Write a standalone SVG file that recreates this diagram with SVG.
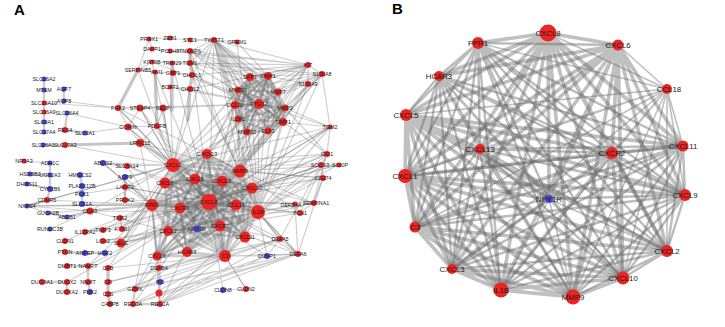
<svg xmlns="http://www.w3.org/2000/svg" width="725" height="327" viewBox="0 0 725 327">
<style>
.bg{fill:#fff}
.r{fill:#ec2424}
.b{fill:#4646d8}
.ta{font-family:"Liberation Sans",Arial,sans-serif;font-size:5.4px;fill:#1a1a1a;text-anchor:middle;dominant-baseline:central}
.tb{font-family:"Liberation Sans",Arial,sans-serif;font-size:7.8px;fill:#1a1a1a;text-anchor:middle;dominant-baseline:central}
.pl{font-family:"Liberation Sans",Arial,sans-serif;font-size:15px;font-weight:bold;fill:#000}
.e{fill:none;stroke:#6a6a6a;stroke-linejoin:round;stroke-linecap:round}
.e1{stroke-width:1.2;stroke-opacity:.32}
.e2{stroke-width:2.4;stroke-opacity:.33}
.e3{stroke-width:3.2;stroke-opacity:.38}
.eb{stroke-width:3.6;stroke-opacity:.42}
.eb2{stroke-width:2.4;stroke-opacity:.45}
.ebt{stroke-width:1.6;stroke-opacity:.42}
</style>
<rect class="bg" width="725" height="327"/>
<text class="pl" x="14" y="15">A</text>
<text class="pl" x="392" y="14">B</text>

<g id="edges-a">
<path class="e e2" d="M209 202L173 165 209 202 240 171 209 202 165 183 209 202 195 179 209 202 222 181 209 202 252 188 209 202 152 205 209 202 180 208 209 202 236 205 209 202 258 212 209 202 168 231 209 202 197 229 209 202 220 226 209 202 245 237 209 202 187 252 209 202 225 256 209 202 157 256 209 202 207 154"/>
<path class="e e1" d="M209 202L259 104 209 202 285 108 209 202 283 122 209 202 268 76 209 202 238 90 209 202 250 77 209 202 278 92 209 202 238 119 209 202 247 132 209 202 268 131 209 202 235 105 209 202 330 127 209 202 327 154 209 202 322 165 209 202 323 178 209 202 313 203 209 202 300 213 209 202 280 239 209 202 298 254 209 202 308 65 209 202 322 74 209 202 214 40 209 202 125 187 209 202 125 200 209 202 127 166 209 202 122 229 209 202 103 230 209 202 85 232 209 202 118 108 209 202 140 143 209 202 108 268 209 202 88 266 209 202 67 282 209 202 160 304 209 202 133 304 209 202 135 289 209 202 159 268 209 202 121 243 209 202 190 51 209 202 172 63 209 202 155 72"/>
<path class="e e2" d="M258 212L173 165 258 212 240 171 258 212 165 183 258 212 195 179 258 212 222 181 258 212 252 188 258 212 152 205 258 212 180 208 258 212 236 205 258 212 168 231 258 212 197 229 258 212 220 226 258 212 245 237 258 212 187 252 258 212 225 256 258 212 157 256 258 212 207 154"/>
<path class="e e1" d="M258 212L259 104 258 212 285 108 258 212 283 122 258 212 268 76 258 212 250 77 258 212 238 90 258 212 278 92 258 212 330 127 258 212 327 154 258 212 322 165 258 212 337 165 258 212 323 178 258 212 313 203 258 212 300 213 258 212 280 239 258 212 298 254 258 212 267 256 258 212 308 84 258 212 322 74 258 212 214 40 258 212 237 42 258 212 190 63 258 212 127 166 258 212 125 187 258 212 121 243 258 212 140 143 258 212 103 241 258 212 160 304 258 212 135 289"/>
<path class="e e2" d="M173 165L240 171 173 165 165 183 173 165 195 179 173 165 222 181 173 165 252 188 173 165 152 205 173 165 180 208 173 165 236 205 173 165 168 231 173 165 197 229 173 165 220 226 173 165 245 237 173 165 187 252 173 165 225 256 173 165 157 256 173 165 207 154"/>
<path class="e e1" d="M173 165L259 104 173 165 285 108 173 165 283 122 173 165 268 76 173 165 250 77 173 165 238 90 173 165 140 143 173 165 128 127 173 165 118 108 173 165 140 108 173 165 163 108 173 165 157 126 173 165 127 166 173 165 125 177 173 165 125 187 173 165 103 163 173 165 65 145 173 165 27 206 173 165 121 243 173 165 122 229 173 165 190 89 173 165 170 87 173 165 214 40 173 165 152 62 173 165 138 70 173 165 313 203 173 165 327 154 173 165 322 165"/>
<path class="e e2" d="M240 171L165 183 240 171 195 179 240 171 222 181 240 171 252 188 240 171 152 205 240 171 180 208 240 171 236 205 240 171 168 231 240 171 197 229 240 171 220 226 240 171 245 237 240 171 187 252 240 171 225 256 240 171 157 256 240 171 207 154"/>
<path class="e e1" d="M240 171L259 104 240 171 285 108 240 171 283 122 240 171 268 76 240 171 250 77 240 171 238 90 240 171 278 92 240 171 238 119 240 171 247 132 240 171 268 131 240 171 235 105 240 171 330 127 240 171 308 65 240 171 322 74 240 171 308 84 240 171 214 40 240 171 190 51 240 171 192 75 240 171 327 154 240 171 323 178 240 171 313 203 240 171 300 213 240 171 140 143"/>
<path class="e e2" d="M152 205L165 183 152 205 195 179 152 205 222 181 152 205 252 188 152 205 180 208 152 205 236 205 152 205 168 231 152 205 197 229 152 205 220 226 152 205 245 237 152 205 187 252 152 205 225 256 152 205 157 256 152 205 207 154"/>
<path class="e e1" d="M152 205L125 187 152 205 125 200 152 205 120 218 152 205 122 229 152 205 103 230 152 205 85 232 152 205 121 243 152 205 127 166 152 205 125 177 152 205 27 206 152 205 48 213 152 205 140 143 152 205 103 163 152 205 160 304 152 205 135 289 152 205 159 268 152 205 108 268 152 205 88 266 152 205 90 211"/>
<path class="e e2" d="M220 226L165 183 220 226 195 179 220 226 222 181 220 226 252 188 220 226 180 208 220 226 236 205 220 226 168 231 220 226 197 229 220 226 245 237 220 226 187 252 220 226 225 256 220 226 157 256 220 226 207 154"/>
<path class="e e1" d="M220 226L280 239 220 226 298 254 220 226 267 256 220 226 313 203 220 226 300 213"/>
<path class="e e2" d="M168 231L165 183 168 231 195 179 168 231 222 181 168 231 252 188 168 231 180 208 168 231 236 205 168 231 197 229 168 231 245 237 168 231 187 252 168 231 225 256 168 231 157 256 168 231 207 154"/>
<path class="e e1" d="M168 231L121 243 168 231 103 241 168 231 135 289 168 231 159 268 168 231 90 211"/>
<path class="e e2" d="M225 256L165 183 225 256 195 179 225 256 222 181 225 256 252 188 225 256 180 208 225 256 236 205 225 256 197 229 225 256 245 237 225 256 187 252 225 256 157 256 225 256 207 154"/>
<path class="e e1" d="M225 256L267 256 225 256 280 239 225 256 298 254 225 256 108 282 225 256 108 268 225 256 108 294 225 256 246 289 225 256 160 304 225 256 133 304"/>
<path class="e e2" d="M252 188L165 183 252 188 195 179 252 188 222 181 252 188 180 208 252 188 236 205 252 188 197 229 252 188 245 237 252 188 187 252 252 188 157 256 252 188 207 154"/>
<path class="e e1" d="M252 188L327 154 252 188 322 165 252 188 323 178 252 188 337 165 252 188 330 127"/>
<path class="e e2" d="M207 154L165 183 207 154 195 179 207 154 222 181 207 154 180 208 207 154 236 205 207 154 245 237 207 154 187 252 207 154 157 256 207 154 259 104 207 154 250 77"/>
<path class="e e2" d="M165 183L195 179 222 181 M165 183L222 181M180 208L236 205M180 208L187 252M236 205L245 237M157 256L187 252M195 179L236 205M222 181L180 208"/>
<path class="e e2" d="M259 104L285 108 259 104 283 122 259 104 268 76 259 104 250 77 259 104 238 90 259 104 278 92 259 104 238 119 259 104 247 132 259 104 268 131 259 104 235 105"/>
<path class="e e1" d="M259 104L308 65 259 104 322 74 259 104 308 84 259 104 214 40 259 104 190 51 259 104 190 63 259 104 192 75 259 104 190 89 259 104 170 87 259 104 152 62 259 104 330 127 259 104 327 154 259 104 163 108 259 104 140 108 259 104 118 108"/>
<path class="e e2" d="M285 108L268 76 285 108 250 77 285 108 238 90 285 108 278 92 285 108 238 119 285 108 247 132 285 108 268 131 285 108 235 105 285 108 283 122"/>
<path class="e e1" d="M285 108L308 65 285 108 322 74 285 108 308 84 285 108 214 40 285 108 330 127 285 108 327 154 285 108 190 51"/>
<path class="e e2" d="M283 122L268 76 283 122 250 77 283 122 238 90 283 122 278 92 283 122 238 119 283 122 247 132 283 122 268 131 283 122 235 105"/>
<path class="e e1" d="M283 122L308 84 283 122 330 127 283 122 214 40 283 122 192 75"/>
<path class="e e2" d="M268 76L250 77 268 76 238 90 268 76 278 92 268 76 238 119 268 76 247 132 268 76 268 131 268 76 235 105"/>
<path class="e e1" d="M268 76L308 65 268 76 322 74 268 76 308 84 268 76 214 40 268 76 237 42 268 76 190 51"/>
<path class="e e2" d="M250 77L238 90 250 77 278 92 250 77 238 119 250 77 247 132 250 77 235 105 M238 90L235 105 238 119 247 132 268 131 M238 90L278 92M238 119L268 131M235 105L247 132"/>
<path class="e e1" d="M250 77L214 40 250 77 190 51 250 77 190 63 250 77 308 65"/>
<path class="e e2" d="M214 40L238 90 214 40 235 105 214 40 238 119 214 40 247 132 214 40 268 131 214 40 278 92"/>
<path class="e e1" d="M214 40L237 42M214 40L190 40M214 40L190 51 214 40 190 63 214 40 192 75 214 40 308 65"/>
<path class="e e1" d="M308 65L190 51 308 65 190 63 308 65 192 75 308 65 190 89 308 65 170 51 308 65 322 74 308 65 308 84 308 65 278 92 308 65 238 90 308 65 235 105"/>
<path class="e e1" d="M322 74L308 84 322 74 278 92 322 74 238 90 322 74 235 105 322 74 190 63 322 74 330 127"/>
<path class="e e1" d="M149 39L170 38 190 40 214 40 M152 49L149 39M152 49L170 51 190 51M152 62L172 63 190 63M138 70L155 72 173 73 192 75M170 87L190 89M152 62L138 70M149 39L138 70"/>
<path class="e e3" d="M190 51L190 63 192 75 190 89 188 120M172 63L172 110M138 70L118 108M155 72L157 126"/>
<path class="e e1" d="M118 108L140 108 163 108M128 127L157 126M118 108L128 127 140 143M163 108L157 126 140 143M140 108L128 127M163 108L173 165M140 108L173 165M157 126L209 202M128 127L209 202M118 108L240 171M140 108L209 202"/>
<path class="e e1" d="M64 101L118 108M44 103L118 108M67 113L128 127M85 133L128 127"/>
<path class="e e3" d="M65 145L140 143"/>
<path class="e e2" d="M44 79L44 90 44 103M64 89L64 101M44 103L44 112 44 122 44 132M65 130L67 113M65 130L85 133M43 145L65 145M50 163L50 175 50 189M30 174L50 175M27 184L50 189M50 189L47 200M27 206L47 200M80 175L82 186 82 194 82 204M103 163L127 166M125 177L125 187 125 200M48 213L67 217M67 217L90 211"/>
<path class="e e1" d="M27 206L152 205M27 206L173 165M27 206L209 202M27 206L90 211M27 206L48 213M24 161L50 163M47 200L152 205M47 200L173 165M90 211L209 202M90 211L173 165M90 211L258 212M50 229L90 211M65 241L85 232M85 232L103 230 122 229M103 241L121 243M121 243L173 165M121 243L220 226M125 200L125 187M120 218L122 229M103 163L152 205M82 204L152 205M82 194L125 187"/>
<path class="e e2" d="M65 252L85 253 105 253M67 266L88 266M88 266L88 282M42 282L67 282M67 282L67 292M88 282L90 292M135 289L133 304M133 304L160 304M159 268L160 282 159 293 160 304"/>
<path class="e e3" d="M108 268L108 282 108 294 110 304"/>
<path class="e e1" d="M298 254L160 304 298 254 133 304 298 254 135 289 298 254 108 294 298 254 159 293 M280 239L160 304 280 239 159 268 280 239 108 282 280 239 135 289 M267 256L160 304 267 256 133 304 M280 239L298 254 267 256 280 239M298 254L295 205 300 213M313 203L300 213M330 127L327 154 322 165 323 178 313 203M337 165L322 165M223 290L246 289M246 289L225 256M223 290L209 202"/>
<path class="e e1" d="M313 203L327 154M300 213L322 165M298 254L323 178M280 239L327 154M323 178L240 171M337 165L240 171M330 127L209 202M330 127L173 165M322 165L209 202M337 165L209 202M298 254L258 212M280 239L258 212M300 213L209 202M297 204L258 212M297 204L209 202"/>
</g>

<g id="edges-b">
<path class="e eb" d="M548 33L478 43 548 33 618 45 548 33 439 76 548 33 406 115 548 33 480 149 548 33 612 153 548 33 683 146 548 33 405 176 548 33 685 195 548 33 549 199 548 33 415 227 548 33 667 251 548 33 452 269 548 33 623 278 548 33 501 290 548 33 573 297"/>
<path class="e ebt" d="M548 33L667 89"/>
<path class="e eb2" d="M478 43L618 45 478 43 439 76 478 43 406 115 478 43 480 149 478 43 612 153 478 43 683 146 478 43 405 176 478 43 685 195 478 43 549 199 478 43 415 227 478 43 667 251 478 43 452 269 478 43 623 278 478 43 501 290 478 43 573 297"/>
<path class="e ebt" d="M478 43L667 89"/>
<path class="e eb" d="M618 45L439 76 618 45 406 115 618 45 480 149 618 45 612 153 618 45 683 146 618 45 405 176 618 45 685 195 618 45 549 199 618 45 415 227 618 45 667 251 618 45 452 269 618 45 623 278 618 45 501 290 618 45 573 297"/>
<path class="e ebt" d="M618 45L667 89"/>
<path class="e eb2" d="M439 76L406 115 439 76 480 149 439 76 612 153 439 76 683 146 439 76 405 176 439 76 685 195 439 76 549 199 439 76 415 227 439 76 667 251 439 76 452 269 439 76 623 278 439 76 501 290 439 76 573 297"/>
<path class="e ebt" d="M667 89L406 115 667 89 480 149 667 89 612 153 667 89 683 146 667 89 405 176 667 89 685 195 667 89 415 227 667 89 667 251 667 89 452 269 667 89 623 278 667 89 501 290 667 89 573 297"/>
<path class="e eb" d="M406 115L480 149 406 115 612 153 406 115 683 146 406 115 405 176 406 115 685 195 406 115 549 199 406 115 415 227 406 115 667 251 406 115 452 269 406 115 623 278 406 115 501 290 406 115 573 297"/>
<path class="e eb2" d="M480 149L612 153 480 149 683 146 480 149 405 176 480 149 685 195 480 149 549 199 480 149 415 227 480 149 667 251 480 149 452 269 480 149 623 278 480 149 501 290 480 149 573 297"/>
<path class="e eb" d="M612 153L683 146 612 153 405 176 612 153 685 195 612 153 549 199 612 153 415 227 612 153 667 251 612 153 452 269 612 153 623 278 612 153 501 290 612 153 573 297"/>
<path class="e eb2" d="M683 146L405 176 683 146 685 195 683 146 549 199 683 146 415 227 683 146 667 251 683 146 452 269 683 146 623 278 683 146 501 290 683 146 573 297"/>
<path class="e eb" d="M405 176L685 195 405 176 549 199 405 176 415 227 405 176 667 251 405 176 452 269 405 176 623 278 405 176 501 290 405 176 573 297"/>
<path class="e eb2" d="M685 195L549 199 685 195 415 227 685 195 667 251 685 195 452 269 685 195 623 278 685 195 501 290 685 195 573 297"/>
<path class="e ebt" d="M549 199L415 227 549 199 667 251 549 199 452 269 549 199 623 278 549 199 501 290 549 199 573 297"/>
<path class="e eb" d="M415 227L667 251 415 227 452 269 415 227 623 278 415 227 501 290 415 227 573 297"/>
<path class="e eb2" d="M667 251L452 269 667 251 623 278 667 251 501 290 667 251 573 297"/>
<path class="e eb" d="M452 269L623 278 452 269 501 290 452 269 573 297 M623 278L501 290 623 278 573 297 M501 290L573 297"/>
</g>

<g id="a-PRRX1"><circle class="r" cx="149" cy="39" r="2.5"/><text class="ta" x="149" y="39">PRRX1</text></g>
<g id="a-ZEB1"><circle class="r" cx="170" cy="38" r="2.5"/><text class="ta" x="170" y="38">ZEB1</text></g>
<g id="a-STC1"><circle class="r" cx="190" cy="40" r="2.5"/><text class="ta" x="190" y="40">STC1</text></g>
<g id="a-TWIST1"><circle class="r" cx="214" cy="40" r="3"/><text class="ta" x="214" y="40">TWIST1</text></g>
<g id="a-GREM1"><circle class="r" cx="237" cy="42" r="2.5"/><text class="ta" x="237" y="42">GREM1</text></g>
<g id="a-DAPP1"><circle class="r" cx="152" cy="49" r="2.5"/><text class="ta" x="152" y="49">DAPP1</text></g>
<g id="a-PCDH8"><circle class="r" cx="170" cy="51" r="2.5"/><text class="ta" x="170" y="51">PCDH8</text></g>
<g id="a-TNFAIP6"><circle class="r" cx="190" cy="51" r="3"/><text class="ta" x="190" y="51">TNFAIP6</text></g>
<g id="a-KRT6B"><circle class="r" cx="152" cy="62" r="2.5"/><text class="ta" x="152" y="62">KRT6B</text></g>
<g id="a-TRIM29"><circle class="r" cx="172" cy="63" r="2.5"/><text class="ta" x="172" y="63">TRIM29</text></g>
<g id="a-TGM1"><circle class="r" cx="190" cy="63" r="3"/><text class="ta" x="190" y="63">TGM1</text></g>
<g id="a-SERPINB5"><circle class="r" cx="138" cy="70" r="2.5"/><text class="ta" x="138" y="70">SERPINB5</text></g>
<g id="a-ANI1"><circle class="r" cx="155" cy="72" r="2.5"/><text class="ta" x="157" y="72">ANI1</text></g>
<g id="a-GBP1"><circle class="r" cx="173" cy="73" r="3"/><text class="ta" x="173" y="73">GBP1</text></g>
<g id="a-CHI3L1"><circle class="r" cx="192" cy="75" r="3"/><text class="ta" x="192" y="75">CHI3L1</text></g>
<g id="a-BCAT1"><circle class="r" cx="170" cy="87" r="2.5"/><text class="ta" x="170" y="87">BCAT1</text></g>
<g id="a-CHI3L2"><circle class="r" cx="190" cy="89" r="3"/><text class="ta" x="190" y="89">CHI3L2</text></g>
<g id="a-KIT"><circle class="r" cx="308" cy="65" r="3"/><text class="ta" x="308" y="65">KIT</text></g>
<g id="a-S100A8"><circle class="r" cx="322" cy="74" r="3"/><text class="ta" x="322" y="74">S100A8</text></g>
<g id="a-S100A9"><circle class="r" cx="308" cy="84" r="3"/><text class="ta" x="308" y="84">S100A9</text></g>
<g id="a-SPP1"><circle class="r" cx="250" cy="77" r="4"/><text class="ta" x="250" y="77">SPP1</text></g>
<g id="a-MMP1"><circle class="r" cx="268" cy="76" r="4"/><text class="ta" x="268" y="76">MMP1</text></g>
<g id="a-MMP10"><circle class="r" cx="238" cy="90" r="3.5"/><text class="ta" x="238" y="90">MMP10</text></g>
<g id="a-MMP7"><circle class="r" cx="278" cy="92" r="3.5"/><text class="ta" x="278" y="92">MMP7</text></g>
<g id="a-CCL20"><circle class="r" cx="235" cy="105" r="4"/><text class="ta" x="235" y="105">CCL20</text></g>
<g id="a-PTGS2"><circle class="r" cx="259" cy="104" r="5"/><text class="ta" x="259" y="104">PTGS2</text></g>
<g id="a-MMP3"><circle class="r" cx="285" cy="108" r="3.5"/><text class="ta" x="285" y="108">MMP3</text></g>
<g id="a-IL1R1"><circle class="r" cx="238" cy="119" r="3.5"/><text class="ta" x="238" y="119">IL1R1</text></g>
<g id="a-TIMP1"><circle class="r" cx="283" cy="122" r="4"/><text class="ta" x="283" y="122">TIMP1</text></g>
<g id="a-MMP12"><circle class="r" cx="247" cy="132" r="3.5"/><text class="ta" x="247" y="132">MMP12</text></g>
<g id="a-ELF3"><circle class="r" cx="268" cy="131" r="3.5"/><text class="ta" x="268" y="131">ELF3</text></g>
<g id="a-TGM2"><circle class="r" cx="330" cy="127" r="2.5"/><text class="ta" x="330" y="127">TGM2</text></g>
<g id="a-IDO1"><circle class="r" cx="327" cy="154" r="3"/><text class="ta" x="327" y="154">IDO1</text></g>
<g id="a-SOCS3"><circle class="r" cx="321" cy="165" r="3"/><text class="ta" x="320" y="165">SOCS3</text></g>
<g id="a-S100P"><circle class="r" cx="339" cy="165" r="2.5"/><text class="ta" x="340" y="165">S100P</text></g>
<g id="a-CD274"><circle class="r" cx="323" cy="178" r="3"/><text class="ta" x="323" y="178">CD274</text></g>
<g id="a-SERPINA1"><circle class="r" cx="314" cy="203" r="3"/><text class="ta" x="316" y="203">SERPINA1</text></g>
<g id="a-DEFB4A"><circle class="r" cx="295" cy="204" r="2.5"/><text class="ta" x="291" y="205">DEFB4A</text></g>
<g id="a-TCN1"><circle class="r" cx="300" cy="213" r="3"/><text class="ta" x="300" y="213">TCN1</text></g>
<g id="a-DEFA5"><circle class="r" cx="280" cy="239" r="3"/><text class="ta" x="280" y="239">DEFA5</text></g>
<g id="a-DEFA6"><circle class="r" cx="298" cy="254" r="3"/><text class="ta" x="298" y="254">DEFA6</text></g>
<g id="a-DUSP1"><circle class="b" cx="267" cy="256" r="3"/><text class="ta" x="267" y="256">DUSP1</text></g>
<g id="a-CLDN8"><circle class="b" cx="223" cy="290" r="3"/><text class="ta" x="223" y="290">CLDN8</text></g>
<g id="a-CLDN2"><circle class="r" cx="246" cy="289" r="3"/><text class="ta" x="246" y="289">CLDN2</text></g>
<g id="a-CXCL13"><circle class="r" cx="207" cy="154" r="5"/><text class="ta" x="207" y="154">CXCL13</text></g>
<g id="a-CXCL1"><circle class="r" cx="173" cy="165" r="7"/><text class="ta" x="173" y="165">CXCL1</text></g>
<g id="a-MMP9"><circle class="r" cx="240" cy="171" r="6.5"/><text class="ta" x="240" y="171">MMP9</text></g>
<g id="a-CXCL6"><circle class="r" cx="165" cy="183" r="5.5"/><text class="ta" x="165" y="183">CXCL6</text></g>
<g id="a-CXCL5"><circle class="r" cx="195" cy="179" r="5.5"/><text class="ta" x="195" y="179">CXCL5</text></g>
<g id="a-CXCL3"><circle class="r" cx="222" cy="181" r="5.5"/><text class="ta" x="222" y="181">CXCL3</text></g>
<g id="a-CXCL10"><circle class="r" cx="252" cy="188" r="5.5"/><text class="ta" x="252" y="188">CXCL10</text></g>
<g id="a-FPR1"><circle class="r" cx="152" cy="205" r="6"/><text class="ta" x="152" y="205">FPR1</text></g>
<g id="a-CXCR1"><circle class="r" cx="180" cy="208" r="5.5"/><text class="ta" x="180" y="208">CXCR1</text></g>
<g id="a-CXCL8"><circle class="r" cx="209" cy="202" r="8"/><text class="ta" x="209" y="202">CXCL8</text></g>
<g id="a-CCL18"><circle class="r" cx="236" cy="205" r="5.5"/><text class="ta" x="236" y="205">CCL18</text></g>
<g id="a-IL1B"><circle class="r" cx="258" cy="212" r="7"/><text class="ta" x="258" y="212">IL1B</text></g>
<g id="a-CXCL2"><circle class="r" cx="168" cy="231" r="5"/><text class="ta" x="168" y="231">CXCL2</text></g>
<g id="a-NPY1R"><circle class="b" cx="197" cy="229" r="3.5"/><text class="ta" x="197" y="229">NPY1R</text></g>
<g id="a-CXCR2"><circle class="r" cx="220" cy="226" r="5.5"/><text class="ta" x="220" y="226">CXCR2</text></g>
<g id="a-CXCL11"><circle class="r" cx="245" cy="237" r="5.5"/><text class="ta" x="245" y="237">CXCL11</text></g>
<g id="a-HCAR3"><circle class="r" cx="187" cy="252" r="5"/><text class="ta" x="187" y="252">HCAR3</text></g>
<g id="a-C3"><circle class="r" cx="225" cy="256" r="6"/><text class="ta" x="225" y="256">C3</text></g>
<g id="a-CXCL9"><circle class="r" cx="157" cy="256" r="4.5"/><text class="ta" x="157" y="256">CXCL9</text></g>
<g id="a-FGF2"><circle class="r" cx="118" cy="108" r="3"/><text class="ta" x="118" y="108">FGF2</text></g>
<g id="a-STEAP4"><circle class="r" cx="140" cy="108" r="3.5"/><text class="ta" x="140" y="108">STEAP4</text></g>
<g id="a-SELP"><circle class="r" cx="163" cy="108" r="3.5"/><text class="ta" x="163" y="108">SELP</text></g>
<g id="a-CORIN"><circle class="r" cx="128" cy="127" r="3.5"/><text class="ta" x="128" y="127">CORIN</text></g>
<g id="a-PDGFB"><circle class="r" cx="157" cy="126" r="3"/><text class="ta" x="157" y="126">PDGFB</text></g>
<g id="a-LRRC15"><circle class="r" cx="140" cy="143" r="4"/><text class="ta" x="140" y="143">LRRC15</text></g>
<g id="a-SLC6A14"><circle class="r" cx="127" cy="166" r="3"/><text class="ta" x="127" y="166">SLC6A14</text></g>
<g id="a-AQP9"><circle class="b" cx="125" cy="177" r="3"/><text class="ta" x="125" y="177">AQP9</text></g>
<g id="a-LAMP3"><circle class="r" cx="125" cy="187" r="3"/><text class="ta" x="125" y="187">LAMP3</text></g>
<g id="a-PROK2"><circle class="r" cx="125" cy="200" r="3"/><text class="ta" x="125" y="200">PROK2</text></g>
<g id="a-TFPI2"><circle class="r" cx="120" cy="218" r="3"/><text class="ta" x="120" y="218">TFPI2</text></g>
<g id="a-KYNU"><circle class="r" cx="122" cy="229" r="3"/><text class="ta" x="122" y="229">KYNU</text></g>
<g id="a-TNIP3"><circle class="r" cx="103" cy="230" r="3"/><text class="ta" x="103" y="230">TNIP3</text></g>
<g id="a-IL13RA2"><circle class="r" cx="85" cy="232" r="3"/><text class="ta" x="85" y="232">IL13RA2</text></g>
<g id="a-LCN2"><circle class="r" cx="103" cy="241" r="3"/><text class="ta" x="103" y="241">LCN2</text></g>
<g id="a-SELE"><circle class="r" cx="121" cy="243" r="4.5"/><text class="ta" x="121" y="243">SELE</text></g>
<g id="a-SLC26A2"><circle class="b" cx="44" cy="79" r="2.5"/><text class="ta" x="44" y="79">SLC26A2</text></g>
<g id="a-MT1M"><circle class="b" cx="44" cy="90" r="2.5"/><text class="ta" x="44" y="90">MT1M</text></g>
<g id="a-AQP7"><circle class="b" cx="64" cy="89" r="2.5"/><text class="ta" x="64" y="89">AQP7</text></g>
<g id="a-SLC26A10"><circle class="r" cx="44" cy="103" r="2.5"/><text class="ta" x="44" y="103">SLC26A10</text></g>
<g id="a-AQP8"><circle class="b" cx="64" cy="101" r="2.5"/><text class="ta" x="64" y="101">AQP8</text></g>
<g id="a-SLC16A9"><circle class="r" cx="44" cy="112" r="2.5"/><text class="ta" x="44" y="112">SLC16A9</text></g>
<g id="a-SLC26A4"><circle class="b" cx="67" cy="113" r="2.5"/><text class="ta" x="67" y="113">SLC26A4</text></g>
<g id="a-SLC9A1"><circle class="b" cx="44" cy="122" r="2.5"/><text class="ta" x="44" y="122">SLC9A1</text></g>
<g id="a-SLC17A4"><circle class="b" cx="44" cy="132" r="2.5"/><text class="ta" x="44" y="132">SLC17A4</text></g>
<g id="a-REG4"><circle class="r" cx="65" cy="130" r="3"/><text class="ta" x="65" y="130">REG4</text></g>
<g id="a-SLC3A1"><circle class="b" cx="85" cy="133" r="2.5"/><text class="ta" x="85" y="133">SLC3A1</text></g>
<g id="a-SLC26A1"><circle class="b" cx="43" cy="145" r="2.5"/><text class="ta" x="43" y="145">SLC26A1</text></g>
<g id="a-SLC17A3"><circle class="r" cx="65" cy="145" r="3"/><text class="ta" x="65" y="145">SLC17A3</text></g>
<g id="a-NR3A3"><circle class="r" cx="24" cy="161" r="2.5"/><text class="ta" x="24" y="161">NR3A3</text></g>
<g id="a-ADH1C"><circle class="b" cx="50" cy="163" r="2.5"/><text class="ta" x="50" y="163">ADH1C</text></g>
<g id="a-HSD3B2"><circle class="b" cx="30" cy="174" r="2.5"/><text class="ta" x="30" y="174">HSD3B2</text></g>
<g id="a-UGT2A3"><circle class="b" cx="50" cy="175" r="2.5"/><text class="ta" x="50" y="175">UGT2A3</text></g>
<g id="a-DHRS11"><circle class="b" cx="27" cy="184" r="2.5"/><text class="ta" x="27" y="184">DHRS11</text></g>
<g id="a-CYP2B6"><circle class="b" cx="50" cy="189" r="3"/><text class="ta" x="50" y="189">CYP2B6</text></g>
<g id="a-CDHR5"><circle class="r" cx="47" cy="200" r="3"/><text class="ta" x="47" y="200">CDHR5</text></g>
<g id="a-NXPE4"><circle class="b" cx="27" cy="206" r="2.5"/><text class="ta" x="27" y="206">NXPE4</text></g>
<g id="a-GUCA2B"><circle class="b" cx="48" cy="213" r="2.5"/><text class="ta" x="48" y="213">GUCA2B</text></g>
<g id="a-ABCB1"><circle class="b" cx="67" cy="217" r="2.5"/><text class="ta" x="67" y="217">ABCB1</text></g>
<g id="a-RUNDC3B"><circle class="b" cx="50" cy="229" r="2.5"/><text class="ta" x="50" y="229">RUNDC3B</text></g>
<g id="a-CLDN1"><circle class="r" cx="65" cy="241" r="3"/><text class="ta" x="65" y="241">CLDN1</text></g>
<g id="a-ABCG2"><circle class="b" cx="103" cy="163" r="3"/><text class="ta" x="103" y="163">ABCG2</text></g>
<g id="a-HMGCS2"><circle class="b" cx="80" cy="175" r="3"/><text class="ta" x="80" y="175">HMGCS2</text></g>
<g id="a-PLA2G12B"><circle class="b" cx="82" cy="186" r="3"/><text class="ta" x="82" y="186">PLA2G12B</text></g>
<g id="a-PCK1"><circle class="b" cx="82" cy="194" r="3"/><text class="ta" x="82" y="194">PCK1</text></g>
<g id="a-SLC51A"><circle class="b" cx="82" cy="204" r="3"/><text class="ta" x="82" y="204">SLC51A</text></g>
<g id="a-CDH3"><circle class="r" cx="90" cy="211" r="3.5"/><text class="ta" x="90" y="211">CDH3</text></g>
<g id="a-PTGN"><circle class="r" cx="65" cy="252" r="3"/><text class="ta" x="65" y="252">PTGN</text></g>
<g id="a-ANPEP"><circle class="b" cx="85" cy="253" r="3"/><text class="ta" x="85" y="253">ANPEP</text></g>
<g id="a-HSD11B2"><circle class="b" cx="105" cy="253" r="3"/><text class="ta" x="105" y="253">HGF2</text></g>
<g id="a-DMBT1"><circle class="r" cx="67" cy="266" r="3"/><text class="ta" x="67" y="266">DMBT1</text></g>
<g id="a-NAMPT"><circle class="r" cx="88" cy="266" r="3"/><text class="ta" x="88" y="266">NAMPT</text></g>
<g id="a-CFB"><circle class="r" cx="108" cy="268" r="3"/><text class="ta" x="108" y="268">CFB</text></g>
<g id="a-DUOXA1"><circle class="r" cx="42" cy="282" r="3"/><text class="ta" x="42" y="282">DUOXA1</text></g>
<g id="a-DUOX2"><circle class="r" cx="67" cy="282" r="3"/><text class="ta" x="67" y="282">DUOX2</text></g>
<g id="a-NNMT"><circle class="r" cx="88" cy="282" r="3"/><text class="ta" x="88" y="282">NNMT</text></g>
<g id="a-CFI"><circle class="r" cx="108" cy="282" r="3"/><text class="ta" x="108" y="282">CFI</text></g>
<g id="a-DUOXA2"><circle class="r" cx="67" cy="292" r="3"/><text class="ta" x="67" y="292">DUOXA2</text></g>
<g id="a-PDK2"><circle class="b" cx="90" cy="292" r="3"/><text class="ta" x="90" y="292">PDK2</text></g>
<g id="a-C1S"><circle class="r" cx="108" cy="294" r="3"/><text class="ta" x="108" y="294">C1S</text></g>
<g id="a-C4BPB"><circle class="r" cx="110" cy="304" r="3"/><text class="ta" x="110" y="304">C4BPB</text></g>
<g id="a-GZMK"><circle class="r" cx="135" cy="289" r="3"/><text class="ta" x="135" y="289">GZMK</text></g>
<g id="a-REG3A"><circle class="r" cx="133" cy="304" r="3"/><text class="ta" x="133" y="304">REG3A</text></g>
<g id="a-REG1A"><circle class="r" cx="160" cy="304" r="3"/><text class="ta" x="160" y="304">REG1A</text></g>
<g id="a-DEFB4"><circle class="r" cx="159" cy="268" r="3"/><text class="ta" x="159" y="268">DEFB4</text></g>
<g id="a-PI3"><circle class="b" cx="160" cy="282" r="3"/><text class="ta" x="160" y="282">PI3</text></g>
<g id="a-REG1B"><circle class="r" cx="159" cy="293" r="3.5"/></g>

<g id="b-CXCL8"><circle class="r" cx="548" cy="33" r="8.5"/><text class="tb" x="548" y="33">CXCL8</text></g>
<g id="b-FPR1"><circle class="r" cx="478" cy="43" r="6"/><text class="tb" x="478" y="43">FPR1</text></g>
<g id="b-CXCL6"><circle class="r" cx="618" cy="45" r="5.5"/><text class="tb" x="618" y="45">CXCL6</text></g>
<g id="b-HCAR3"><circle class="r" cx="439" cy="76" r="5"/><text class="tb" x="439" y="76">HCAR3</text></g>
<g id="b-CCL18"><circle class="r" cx="667" cy="89" r="5"/><text class="tb" x="669" y="89">CCL18</text></g>
<g id="b-CXCL5"><circle class="r" cx="406" cy="115" r="6"/><text class="tb" x="406" y="115">CXCL5</text></g>
<g id="b-CXCL13"><circle class="r" cx="480" cy="149" r="5"/><text class="tb" x="480" y="149">CXCL13</text></g>
<g id="b-CXCR2"><circle class="r" cx="612" cy="153" r="6"/><text class="tb" x="612" y="153">CXCR2</text></g>
<g id="b-CXCL11"><circle class="r" cx="683" cy="146" r="5.5"/><text class="tb" x="683" y="146">CXCL11</text></g>
<g id="b-CXCL1"><circle class="r" cx="405" cy="176" r="7"/><text class="tb" x="405" y="176">CXCL1</text></g>
<g id="b-CXCL9"><circle class="r" cx="685" cy="195" r="6"/><text class="tb" x="685" y="195">CXCL9</text></g>
<g id="b-NPY1R"><circle class="b" cx="549" cy="199" r="4"/><text class="tb" x="549" y="199">NPY1R</text></g>
<g id="b-C3"><circle class="r" cx="415" cy="227" r="5.5"/><text class="tb" x="415" y="227">C3</text></g>
<g id="b-CXCL2"><circle class="r" cx="667" cy="251" r="6"/><text class="tb" x="667" y="251">CXCL2</text></g>
<g id="b-CXCL3"><circle class="r" cx="452" cy="269" r="5"/><text class="tb" x="452" y="269">CXCL3</text></g>
<g id="b-CXCL10"><circle class="r" cx="623" cy="278" r="6.5"/><text class="tb" x="623" y="278">CXCL10</text></g>
<g id="b-IL1B"><circle class="r" cx="501" cy="290" r="7.5"/><text class="tb" x="501" y="290">IL1B</text></g>
<g id="b-MMP9"><circle class="r" cx="573" cy="297" r="7.5"/><text class="tb" x="573" y="297">MMP9</text></g>
</svg>
